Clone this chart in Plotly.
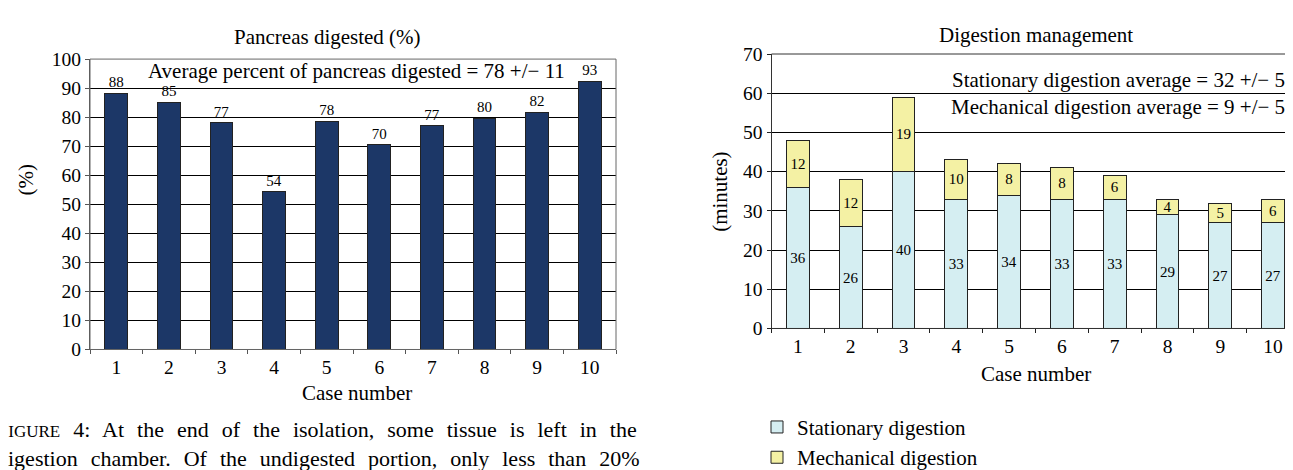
import plotly.graph_objects as go

W, H = 1293, 470

cases = [str(i) for i in range(1, 11)]
pct_digested = [88.2, 85.2, 78.1, 54.3, 78.6, 70.5, 77.0, 79.7, 81.7, 92.4]
pct_labels = ["88", "85", "77", "54", "78", "70", "77", "80", "82", "93"]
stationary = [36, 26, 40, 33, 34, 33, 33, 29, 27, 27]
mechanical = [12, 12, 19, 10, 8, 8, 6, 4, 5, 6]
left_ticks = list(range(0, 101, 10))
right_ticks = list(range(0, 71, 10))

FONT = "Liberation Serif"
NAVY = "#1c3767"
LBLUE = "#d5eef2"
YEL = "#f4f1a4"
TICK = 19.5
TXT = 21


def px(x):
    return x / W


def py(y):
    return (H - y) / H


fig = go.Figure()

fig.add_trace(go.Bar(
    x=cases, y=pct_digested, xaxis="x", yaxis="y",
    marker=dict(color=NAVY, line=dict(color="#222222", width=1)),
    text=pct_labels, textposition="outside", cliponaxis=False,
    textfont=dict(family=FONT, size=15, color="black"),
    showlegend=False, hoverinfo="skip",
))

fig.add_trace(go.Bar(
    x=cases, y=stationary, xaxis="x2", yaxis="y2", name="Stationary digestion",
    marker=dict(color=LBLUE, line=dict(color="#222222", width=1)),
    text=[str(v) for v in stationary], textposition="inside",
    insidetextanchor="middle", textangle=0, constraintext="none",
    textfont=dict(family=FONT, size=15, color="black"),
))
fig.add_trace(go.Bar(
    x=cases, y=mechanical, xaxis="x2", yaxis="y2", name="Mechanical digestion",
    marker=dict(color=YEL, line=dict(color="#222222", width=1)),
    text=[str(v) for v in mechanical], textposition="inside",
    insidetextanchor="middle", textangle=0, constraintext="none",
    textfont=dict(family=FONT, size=15, color="black"),
))

xcommon = dict(type="category", showgrid=False, showline=True,
               ticks="outside", tickson="boundaries", ticklen=4,
               tickfont=dict(family=FONT, size=TICK, color="black"))
ycommon = dict(showgrid=True, gridcolor="#000000", gridwidth=1, showline=True,
               ticks="outside", ticklen=4, zeroline=False,
               tickfont=dict(family=FONT, size=TICK, color="black"))

fig.update_layout(
    width=W, height=H,
    margin=dict(l=0, r=0, t=0, b=0),
    paper_bgcolor="white", plot_bgcolor="white",
    barmode="stack", bargap=0.57,
    font=dict(family=FONT, size=TXT, color="black"),
    xaxis=dict(domain=[px(82), px(608)], anchor="y", linecolor="#555555",
               tickcolor="#555555", **xcommon),
    yaxis=dict(domain=[py(347), py(43)], anchor="x", range=[0, 100],
               tickvals=left_ticks, linecolor="#555555", tickcolor="#555555", **ycommon),
    xaxis2=dict(domain=[px(763.5), px(1291.5)], anchor="y2", linecolor="#222222",
                tickcolor="#222222", **xcommon),
    yaxis2=dict(domain=[py(325), py(37.7)], anchor="x2", range=[0, 70],
                tickvals=right_ticks, linecolor="#222222", tickcolor="#222222", **ycommon),
    legend=dict(x=px(749), y=py(407), xanchor="left", yanchor="top",
                traceorder="normal", font=dict(family=FONT, size=TXT, color="black"),
                bgcolor="rgba(0,0,0,0)"),
    shapes=[
        dict(type="rect", xref="x domain", yref="y domain", x0=0, x1=1, y0=0, y1=1,
             line=dict(color="#666666", width=1)),
        dict(type="rect", xref="x2 domain", yref="y2 domain", x0=0, x1=1, y0=0, y1=1,
             line=dict(color="#333333", width=1)),
    ],
)

ann = []


def add_text(text, x, y, size=TXT, xanchor="center", angle=0):
    ann.append(dict(text=text, x=px(x), y=py(y), xref="paper", yref="paper",
                    xanchor=xanchor, yanchor="middle", showarrow=False, textangle=angle,
                    font=dict(family=FONT, size=size, color="black")))


add_text("Pancreas digested (%)", 319, 20)
add_text("Digestion management", 1028, 18)
add_text("Case number", 349, 393)
add_text("Case number", 1028, 373)
add_text("(%)", 18, 170, angle=-90)
add_text("(minutes)", 712, 182, angle=-90)
add_text("Average percent of pancreas digested = 78 +/\u2212 11", 348, 55)
add_text("Stationary digestion average = 32 +/\u2212 5", 1279, 65, xanchor="right")
add_text("Mechanical digestion average = 9 +/\u2212 5", 1279, 93, xanchor="right")
add_text("<span style='word-spacing:7.5px'>F<span style='font-size:17px'>IGURE</span> 4: "
         "At the end of the isolation, some tissue is left in the</span>",
         -14, 431, 22, xanchor="left")
add_text("<span style='word-spacing:7.5px'>digestion chamber. Of the undigested portion, "
         "only less than 20%</span>",
         -13, 461, 22, xanchor="left")

fig.update_layout(annotations=ann)

fig.write_html("out.html")
